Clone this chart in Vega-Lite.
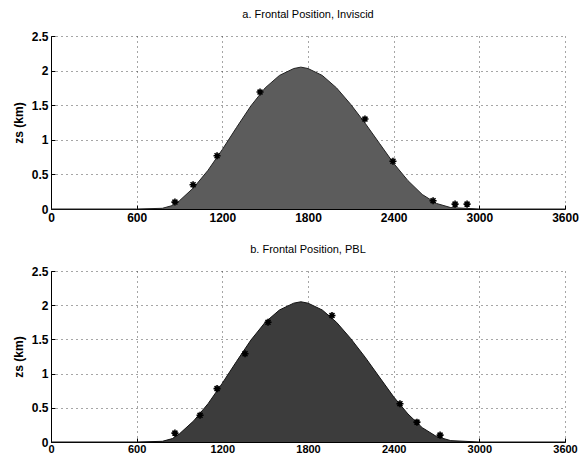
{
  "$schema": "https://vega.github.io/schema/vega-lite/v6.json",
  "background": "white",
  "padding": {"left": 12, "top": 9, "right": 5, "bottom": 0},
  "datasets": {
    "terrain": [
      {"x": 0, "zs": 0}, {"x": 600, "zs": 0}, {"x": 780, "zs": 0.01}, {"x": 850, "zs": 0.05},
      {"x": 900, "zs": 0.12}, {"x": 1000, "zs": 0.31}, {"x": 1100, "zs": 0.56}, {"x": 1200, "zs": 0.86},
      {"x": 1300, "zs": 1.18}, {"x": 1400, "zs": 1.49}, {"x": 1500, "zs": 1.75}, {"x": 1600, "zs": 1.93},
      {"x": 1700, "zs": 2.03}, {"x": 1750, "zs": 2.05}, {"x": 1800, "zs": 2.03}, {"x": 1900, "zs": 1.93},
      {"x": 2000, "zs": 1.75}, {"x": 2100, "zs": 1.51}, {"x": 2200, "zs": 1.24}, {"x": 2300, "zs": 0.95},
      {"x": 2400, "zs": 0.66}, {"x": 2500, "zs": 0.41}, {"x": 2600, "zs": 0.21}, {"x": 2700, "zs": 0.08},
      {"x": 2800, "zs": 0.02}, {"x": 2900, "zs": 0.01}, {"x": 3000, "zs": 0}, {"x": 3600, "zs": 0}
    ],
    "frontInviscid": [
      {"x": 868, "zs": 0.10}, {"x": 995, "zs": 0.35}, {"x": 1163, "zs": 0.77}, {"x": 1464, "zs": 1.69},
      {"x": 2199, "zs": 1.30}, {"x": 2395, "zs": 0.69}, {"x": 2676, "zs": 0.12}, {"x": 2830, "zs": 0.07},
      {"x": 2914, "zs": 0.07}
    ],
    "frontPBL": [
      {"x": 868, "zs": 0.13}, {"x": 1044, "zs": 0.39}, {"x": 1163, "zs": 0.78}, {"x": 1359, "zs": 1.29},
      {"x": 1520, "zs": 1.75}, {"x": 1968, "zs": 1.85}, {"x": 2444, "zs": 0.56}, {"x": 2563, "zs": 0.29},
      {"x": 2725, "zs": 0.10}
    ]
  },
  "vconcat": [
    {
      "title": {"text": "a.  Frontal Position, Inviscid"},
      "width": 514,
      "height": 173,
      "encoding": {
        "x": {"field": "x", "type": "quantitative", "scale": {"domain": [0, 3600], "nice": false, "zero": false},
              "axis": {"values": [0, 600, 1200, 1800, 2400, 3000, 3600], "format": "d", "title": null}},
        "y": {"field": "zs", "type": "quantitative", "scale": {"domain": [0, 2.5], "nice": false},
              "axis": {"values": [0, 0.5, 1, 1.5, 2, 2.5], "format": "~g", "title": "zs (km)"}}
      },
      "layer": [
        {
          "data": {"name": "terrain"},
          "mark": {"type": "area", "color": "#5c5c5c", "opacity": 1, "line": {"color": "#222", "strokeWidth": 1}}
        },
        {
          "data": {"name": "frontInviscid"},
          "mark": {"type": "point", "shape": "M-1,0L1,0M0,-1L0,1M-0.7,-0.7L0.7,0.7M-0.7,0.7L0.7,-0.7",
                   "filled": false, "stroke": "black", "strokeWidth": 1.6, "size": 50, "opacity": 1}
        }
      ]
    },
    {
      "title": {"text": "b.  Frontal Position,  PBL"},
      "width": 514,
      "height": 171,
      "encoding": {
        "x": {"field": "x", "type": "quantitative", "scale": {"domain": [0, 3600], "nice": false, "zero": false},
              "axis": {"values": [0, 600, 1200, 1800, 2400, 3000, 3600], "format": "d", "title": null,
                       "labelPadding": 5, "labelFontSize": 11}},
        "y": {"field": "zs", "type": "quantitative", "scale": {"domain": [0, 2.5], "nice": false},
              "axis": {"values": [0, 0.5, 1, 1.5, 2, 2.5], "format": "~g", "title": "zs (km)"}}
      },
      "layer": [
        {
          "data": {"name": "terrain"},
          "mark": {"type": "area", "color": "#3c3c3c", "opacity": 1, "line": {"color": "#111", "strokeWidth": 1}}
        },
        {
          "data": {"name": "frontPBL"},
          "mark": {"type": "point", "shape": "M-1,0L1,0M0,-1L0,1M-0.7,-0.7L0.7,0.7M-0.7,0.7L0.7,-0.7",
                   "filled": false, "stroke": "black", "strokeWidth": 1.6, "size": 50, "opacity": 1}
        }
      ]
    }
  ],
  "spacing": 21,
  "config": {
    "font": "Liberation Sans",
    "view": {"stroke": null},
    "title": {"fontSize": 11, "fontWeight": "normal", "color": "black", "offset": 10, "anchor": "middle"},
    "axis": {
      "domainColor": "black",
      "domainWidth": 1,
      "tickColor": "black",
      "tickSize": -4,
      "labelPadding": 7,
      "labelFontSize": 12,
      "labelFontWeight": "bold",
      "labelColor": "black",
      "titleFontSize": 12,
      "titleFontWeight": "bold",
      "titleColor": "black",
      "grid": true,
      "gridColor": "#222",
      "gridDash": [1, 4],
      "gridWidth": 1,
      "gridOpacity": 0.8
    },
    "axisX": {"labelFlush": false},
    "axisY": {"titlePadding": 6}
  }
}
